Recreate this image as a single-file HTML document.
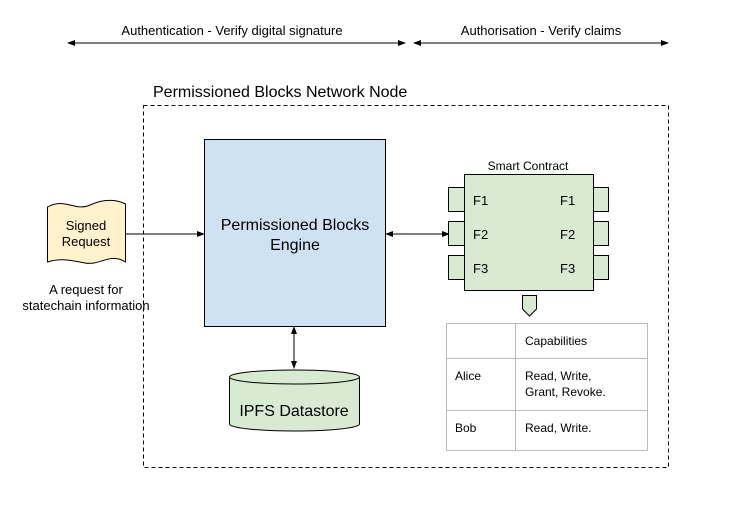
<!DOCTYPE html>
<html><head><meta charset="utf-8"><style>body{margin:0;background:#fff}svg{display:block}text{font-family:"Liberation Sans",Arial,sans-serif;fill:#000}</style></head>
<body>
<svg width="730" height="514" viewBox="0 0 730 514" xmlns="http://www.w3.org/2000/svg">
<defs><marker id="a" markerWidth="8" markerHeight="6" refX="7" refY="3" orient="auto-start-reverse" markerUnits="userSpaceOnUse"><path d="M0,0 L8,3 L0,6z" fill="#000"/></marker></defs>
<text x="232" y="35" font-size="13" text-anchor="middle">Authentication - Verify digital signature</text>
<text x="541" y="35" font-size="13" text-anchor="middle">Authorisation - Verify claims</text>
<line x1="68" y1="43" x2="405" y2="43" stroke="#000" marker-start="url(#a)" marker-end="url(#a)"/>
<line x1="414" y1="43" x2="668" y2="43" stroke="#000" marker-start="url(#a)" marker-end="url(#a)"/>
<text x="153" y="97" font-size="16">Permissioned Blocks Network Node</text>
<rect x="143.5" y="105.5" width="525" height="362" fill="none" stroke="#000" stroke-dasharray="4,3"/>
<rect x="204.5" y="139.5" width="181" height="187" fill="#cfe2f3" stroke="#000"/>
<text x="295" y="230" font-size="16" text-anchor="middle">Permissioned Blocks</text>
<text x="295" y="250" font-size="16" text-anchor="middle">Engine</text>
<path d="M47.5,207 C65,197 75,212 90,205 C105,198 118,200 125.5,204 L125.5,262 C110,252 100,266 85,263 C70,260 60,258 47.5,262 Z" fill="#fff2cc" stroke="#000"/>
<text x="86" y="230" font-size="13" text-anchor="middle">Signed</text>
<text x="86" y="246" font-size="13" text-anchor="middle">Request</text>
<text x="86" y="294" font-size="13" text-anchor="middle">A request for</text>
<text x="86" y="310" font-size="13" text-anchor="middle">statechain information</text>
<line x1="126" y1="234" x2="204" y2="234" stroke="#000" marker-end="url(#a)"/>
<line x1="386" y1="234" x2="449" y2="234" stroke="#000" marker-start="url(#a)" marker-end="url(#a)"/>
<line x1="294" y1="327" x2="294" y2="368" stroke="#000" marker-start="url(#a)" marker-end="url(#a)"/>
<path d="M229.5,377 L229.5,424 A65,7 0 0 0 359.5,424 L359.5,377" fill="#d9ead3" stroke="#000"/>
<ellipse cx="294.5" cy="377" rx="65" ry="7" fill="#d9ead3" stroke="#000"/>
<text x="294" y="416" font-size="16" text-anchor="middle">IPFS Datastore</text>
<text x="528" y="170" font-size="12" text-anchor="middle">Smart Contract</text>
<rect x="448.5" y="187.5" width="16" height="24" fill="#d9ead3" stroke="#000"/>
<rect x="448.5" y="221.5" width="16" height="24" fill="#d9ead3" stroke="#000"/>
<rect x="448.5" y="255.5" width="16" height="24" fill="#d9ead3" stroke="#000"/>
<rect x="592.5" y="187.5" width="16" height="24" fill="#d9ead3" stroke="#000"/>
<rect x="592.5" y="221.5" width="16" height="24" fill="#d9ead3" stroke="#000"/>
<rect x="592.5" y="255.5" width="16" height="24" fill="#d9ead3" stroke="#000"/>
<rect x="464.5" y="174.5" width="129" height="116" fill="#d9ead3" stroke="#000"/>
<g font-size="13"><text x="473" y="205">F1</text><text x="473" y="239">F2</text><text x="473" y="273">F3</text>
<text x="560" y="205">F1</text><text x="560" y="239">F2</text><text x="560" y="273">F3</text></g>
<path d="M522.5,295.5 L536.5,295.5 L536.5,309 L529.5,316 L522.5,309 Z" fill="#d9ead3" stroke="#000"/>
<g stroke="#bbb" fill="none"><rect x="446.5" y="323.5" width="201" height="127"/><line x1="515.5" y1="323" x2="515.5" y2="451"/><line x1="446" y1="358.5" x2="648" y2="358.5"/><line x1="446" y1="410.5" x2="648" y2="410.5"/></g>
<g font-size="12"><text x="525" y="345">Capabilities</text><text x="455" y="380">Alice</text><text x="525" y="380">Read, Write,</text><text x="525" y="396">Grant, Revoke.</text><text x="455" y="432">Bob</text><text x="525" y="432">Read, Write.</text></g>
</svg>
</body></html>
